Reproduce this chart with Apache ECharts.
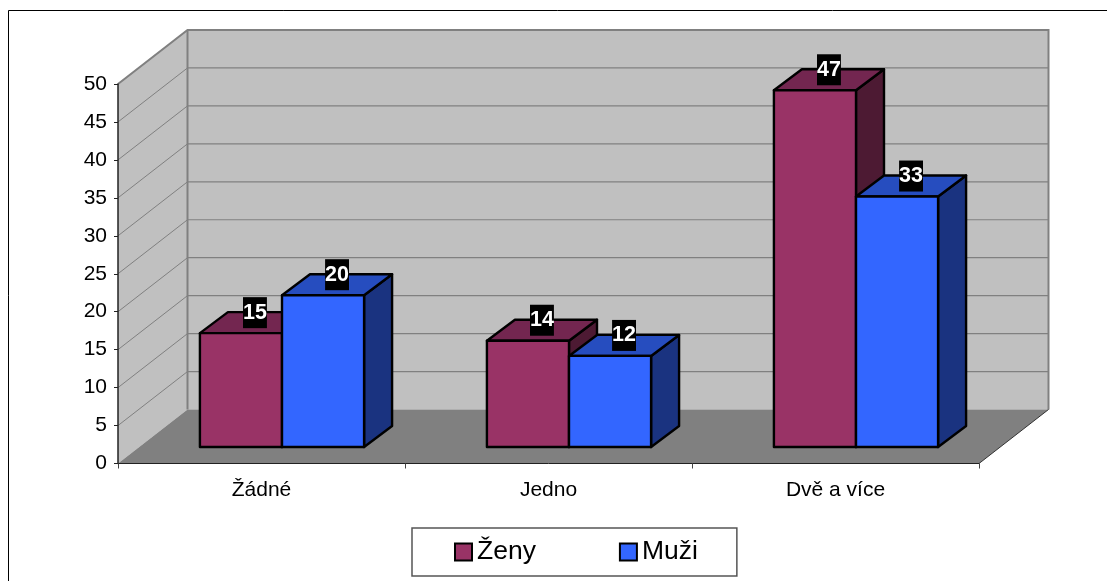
<!DOCTYPE html>
<html>
<head>
<meta charset="utf-8">
<style>
  html, body { margin: 0; padding: 0; background: #fff; }
  #chart { width: 1107px; height: 581px; }
</style>
<script src="https://cdn.jsdelivr.net/npm/echarts@6/dist/echarts.min.js"></script>
</head>
<body>
<div id="chart"></div>
<script>
const categories = ['Žádné', 'Jedno', 'Dvě a více']
const zenyValues = [15, 14, 47]
const muziValues = [20, 12, 33]
const yTicks = [0, 5, 10, 15, 20, 25, 30, 35, 40, 45, 50]

const FONT = '"Liberation Sans", Arial, sans-serif'
// fake 3D: how far the back wall and the bars are pushed, in px
const WALL_DX = 69.5
const WALL_DY = -54
const BAR_SHIFT_X = 20.5
const BAR_SHIFT_Y = -16.5
const BAR_DX = 28
const BAR_DY = -21

function wallItem(params, api) {
  const tick = api.value(1)
  const p = api.coord([0, tick])
  const left = api.coord([0, 0])[0] - api.size([1, 0])[0] / 2
  const right = left + api.size([1, 0])[0] * categories.length
  const grid = '#808080'
  const children = []
  if (params.dataIndex === 0) {
    const y0 = p[1]
    const yTop = api.coord([0, 50])[1]
    children.push(
      { type: 'polygon', shape: { points: [[left + WALL_DX, yTop + WALL_DY], [right + WALL_DX, yTop + WALL_DY], [right + WALL_DX, y0 + WALL_DY], [left + WALL_DX, y0 + WALL_DY]] }, style: { fill: '#c0c0c0' } },
      { type: 'polygon', shape: { points: [[left, y0], [left, yTop], [left + WALL_DX, yTop + WALL_DY], [left + WALL_DX, y0 + WALL_DY]] }, style: { fill: '#c0c0c0' } },
      { type: 'polygon', shape: { points: [[left, y0], [right, y0], [right + WALL_DX, y0 + WALL_DY], [left + WALL_DX, y0 + WALL_DY]] }, style: { fill: '#808080' } },
      { type: 'polyline', shape: { points: [[left, yTop], [left + WALL_DX, yTop + WALL_DY], [right + WALL_DX, yTop + WALL_DY], [right + WALL_DX, y0 + WALL_DY]] }, style: { fill: 'none', stroke: grid, lineWidth: 2 } },
      { type: 'line', shape: { x1: left + WALL_DX, y1: yTop + WALL_DY, x2: left + WALL_DX, y2: y0 + WALL_DY }, style: { stroke: grid, lineWidth: 2 } },
      { type: 'line', shape: { x1: right, y1: y0, x2: right + WALL_DX, y2: y0 + WALL_DY }, style: { stroke: '#333', lineWidth: 1 } }
    )
  } else if (tick < 50) {
    const y = p[1]
    children.push(
      { type: 'line', shape: { x1: left, y1: y, x2: left + WALL_DX, y2: y + WALL_DY }, style: { stroke: grid, lineWidth: 1 } },
      { type: 'line', shape: { x1: left + WALL_DX, y1: y + WALL_DY, x2: right + WALL_DX, y2: y + WALL_DY }, style: { stroke: grid, lineWidth: 1.2 } }
    )
  }
  return { type: 'group', children }
}

function barRenderer(side, colors) {
  return function (params, api) {
    const val = api.value(1)
    const band = api.size([1, 0])[0]
    const w = band * 0.286
    const base = api.coord([api.value(0), 0])
    const top = api.coord([api.value(0), val])
    const x0 = base[0] + BAR_SHIFT_X + (side < 0 ? -w : 0)
    const x1 = x0 + w
    const yb = base[1] + BAR_SHIFT_Y
    const yt = top[1] + BAR_SHIFT_Y
    const line = { stroke: '#000', lineWidth: 2.4, lineJoin: 'round' }
    return {
      type: 'group',
      children: [
        { type: 'polygon', shape: { points: [[x1, yt], [x1 + BAR_DX, yt + BAR_DY], [x1 + BAR_DX, yb + BAR_DY], [x1, yb]] }, style: { fill: colors.side, ...line } },
        { type: 'polygon', shape: { points: [[x0, yt], [x0 + BAR_DX, yt + BAR_DY], [x1 + BAR_DX, yt + BAR_DY], [x1, yt]] }, style: { fill: colors.top, ...line } },
        { type: 'rect', shape: { x: x0, y: yt, width: w, height: yb - yt }, style: { fill: colors.front, ...line } },
        {
          type: 'text',
          z2: 100,
          style: {
            text: String(val),
            x: (x0 + x1) / 2 + 14,
            y: yt - 20.5,
            align: 'center',
            verticalAlign: 'middle',
            fill: '#fff',
            font: 'bold 21.5px ' + FONT,
            backgroundColor: '#000',
            padding: [3, 0, 3, 0],
            lineHeight: 25
          }
        }
      ]
    }
  }
}

const chart = echarts.init(document.getElementById('chart'))
chart.setOption({
  animation: false,
  backgroundColor: '#fff',
  textStyle: { fontFamily: FONT },
  grid: { left: 118, top: 84, width: 861, height: 379.5 },
  legend: {
    data: ['Ženy', 'Muži'],
    left: 412,
    top: 528,
    orient: 'horizontal',
    icon: 'rect',
    itemWidth: 17,
    itemHeight: 17,
    itemGap: 83,
    padding: [10, 39, 10, 42],
    borderColor: '#555',
    borderWidth: 1.5,
    itemStyle: { borderColor: '#000', borderWidth: 2 },
    textStyle: { fontFamily: FONT, fontSize: 26.5, color: '#000', lineHeight: 28 }
  },
  xAxis: {
    type: 'category',
    data: categories,
    z: 5,
    axisLine: { lineStyle: { color: '#222', width: 1 } },
    axisTick: { show: true, length: 5, lineStyle: { color: '#444' } },
    axisLabel: { color: '#000', fontSize: 21, fontFamily: FONT, margin: 16, interval: 0 }
  },
  yAxis: {
    type: 'value',
    min: 0,
    max: 50,
    interval: 5,
    z: 5,
    axisLine: { show: true, lineStyle: { color: '#222', width: 1.5 } },
    axisTick: { show: true, length: 4, lineStyle: { color: '#222' } },
    axisLabel: { color: '#000', fontSize: 21, fontFamily: FONT, margin: 11 },
    splitLine: { show: false }
  },
  graphic: [
    { type: 'polyline', silent: true, shape: { points: [[8.5, 581], [8.5, 10.5], [1107, 10.5]] }, style: { fill: 'none', stroke: '#000', lineWidth: 1 } }
  ],
  series: [
    {
      name: 'frame',
      type: 'custom',
      silent: true,
      z: 1,
      renderItem: wallItem,
      data: yTicks.map((t) => [0, t])
    },
    {
      name: 'Ženy',
      type: 'custom',
      z: 2,
      itemStyle: { color: '#993366' },
      renderItem: barRenderer(-1, { front: '#993366', top: '#732650', side: '#4d1a33' }),
      data: zenyValues.map((v, i) => [i, v])
    },
    {
      name: 'Muži',
      type: 'custom',
      z: 3,
      itemStyle: { color: '#3366ff' },
      renderItem: barRenderer(1, { front: '#3366ff', top: '#264dbf', side: '#1a3380' }),
      data: muziValues.map((v, i) => [i, v])
    }
  ]
})
</script>
</body>
</html>
